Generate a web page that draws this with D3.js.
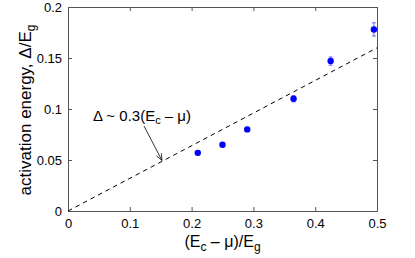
<!DOCTYPE html>
<html>
<head>
<meta charset="utf-8">
<script src="https://cdn.jsdelivr.net/npm/d3@7"></script>
<style>
  body { margin: 0; background: #fff; }
  svg { font-family: 'Liberation Sans', Arial, sans-serif; }
</style>
</head>
<body>
<div class="visHolder"></div>
<script>
// measured points (E_c - mu)/E_g vs Delta/E_g
var xVals = [0.21, 0.25, 0.29, 0.365, 0.425, 0.495];
var yVals = [0.057, 0.065, 0.08, 0.11, 0.147, 0.178];
var yErr = [0.002, 0.002, 0.002, 0.003, 0.004, 0.0065];
var xTicks = [0, 0.1, 0.2, 0.3, 0.4, 0.5];
var yTicks = [0, 0.05, 0.1, 0.15, 0.2];
var fitSlope = 0.32;
var fitX = [0, 0.5];

var width = 415,
  height = 258,
  margin = { left: 68, right: 38, top: 7, bottom: 47 };

var svg = d3
  .select('.visHolder')
  .append('svg')
  .attr('width', width)
  .attr('height', height);

var xScale = d3
  .scaleLinear()
  .domain([0, 0.5])
  .range([margin.left, width - margin.right]);

var yScale = d3
  .scaleLinear()
  .domain([0, 0.2])
  .range([height - margin.bottom, margin.top]);

var fmt = function (d) { return d === 0 ? '0' : String(d); };

// bottom axis with inside ticks
var xAxis = d3.axisBottom(xScale).tickValues(xTicks).tickFormat(fmt)
  .tickSizeInner(-4).tickSizeOuter(0).tickPadding(8);
svg.append('g')
  .attr('transform', 'translate(0,' + yScale(0) + ')')
  .call(xAxis);

var yAxis = d3.axisLeft(yScale).tickValues(yTicks).tickFormat(fmt)
  .tickSizeInner(-4).tickSizeOuter(0).tickPadding(6);
svg.append('g')
  .attr('transform', 'translate(' + xScale(0) + ',0)')
  .call(yAxis);

// top and right ticks (no labels)
svg.append('g')
  .attr('transform', 'translate(0,' + yScale(0.2) + ')')
  .call(d3.axisTop(xScale).tickValues(xTicks).tickFormat('').tickSizeInner(-4).tickSizeOuter(0));
svg.append('g')
  .attr('transform', 'translate(' + xScale(0.5) + ',0)')
  .call(d3.axisRight(yScale).tickValues(yTicks).tickFormat('').tickSizeInner(-4).tickSizeOuter(0));

svg.selectAll('.domain').attr('stroke', '#555').attr('stroke-width', 1);
svg.selectAll('.tick line').attr('stroke', '#555');
svg.selectAll('.tick text').attr('font-size', 13).attr('fill', '#000')
  .attr('font-family', "'Liberation Sans', Arial, sans-serif");

// dashed fit line
svg.append('line')
  .attr('x1', xScale(fitX[0]))
  .attr('y1', yScale(fitX[0] * fitSlope))
  .attr('x2', xScale(fitX[1]))
  .attr('y2', yScale(fitX[1] * fitSlope))
  .attr('stroke', '#000')
  .attr('stroke-width', 1)
  .attr('stroke-dasharray', '4.5,4');

// error bars
var pts = xVals.map(function (x, i) { return { x: x, y: yVals[i], e: yErr[i] }; });
var eb = svg.append('g').attr('stroke', '#6a6aff').attr('stroke-width', 1);
eb.selectAll('line.v').data(pts).enter().append('line')
  .attr('x1', d => xScale(d.x)).attr('x2', d => xScale(d.x))
  .attr('y1', d => yScale(d.y - d.e)).attr('y2', d => yScale(d.y + d.e));
eb.selectAll('line.t').data(pts).enter().append('line')
  .attr('x1', d => xScale(d.x) - 2).attr('x2', d => xScale(d.x) + 2)
  .attr('y1', d => yScale(d.y + d.e)).attr('y2', d => yScale(d.y + d.e));
eb.selectAll('line.b').data(pts).enter().append('line')
  .attr('x1', d => xScale(d.x) - 2).attr('x2', d => xScale(d.x) + 2)
  .attr('y1', d => yScale(d.y - d.e)).attr('y2', d => yScale(d.y - d.e));

svg.selectAll('circle').data(pts).enter().append('circle')
  .attr('cx', d => xScale(d.x))
  .attr('cy', d => yScale(d.y))
  .attr('r', 3.2)
  .attr('fill', '#0000ff');

// annotation
var ann = svg.append('text')
  .attr('x', 93).attr('y', 121)
  .attr('font-size', 15).attr('fill', '#000');
ann.append('tspan').text('\u0394 ~ 0.3(E');
ann.append('tspan').attr('font-size', 11).attr('dy', 3).text('c');
ann.append('tspan').attr('dy', -3).text(' \u2013 \u03bc)');

var ax1 = 144, ay1 = 126, ax2 = xScale(0.152), ay2 = yScale(0.152 * fitSlope) - 1;
svg.append('line')
  .attr('x1', ax1).attr('y1', ay1).attr('x2', ax2).attr('y2', ay2)
  .attr('stroke', '#000').attr('stroke-width', 0.8);
var ang = Math.atan2(ay2 - ay1, ax2 - ax1);
var hl = 7, hw = 0.4;
svg.append('path')
  .attr('d', 'M' + (ax2 - hl * Math.cos(ang - hw)) + ',' + (ay2 - hl * Math.sin(ang - hw)) +
    'L' + ax2 + ',' + ay2 +
    'L' + (ax2 - hl * Math.cos(ang + hw)) + ',' + (ay2 - hl * Math.sin(ang + hw)))
  .attr('fill', 'none').attr('stroke', '#000').attr('stroke-width', 0.8);

// axis labels
var xl = svg.append('text')
  .attr('x', (xScale(0) + xScale(0.5)) / 2).attr('y', 247)
  .attr('text-anchor', 'middle').attr('font-size', 16).attr('fill', '#000');
xl.append('tspan').text('(E');
xl.append('tspan').attr('font-size', 12).attr('dy', 4).text('c');
xl.append('tspan').attr('dy', -4).text(' \u2013 \u03bc)/E');
xl.append('tspan').attr('font-size', 12).attr('dy', 4).text('g');

var yl = svg.append('text')
  .attr('transform', 'translate(31,' + (yScale(0.1) + 1) + ') rotate(-90)')
  .attr('text-anchor', 'middle').attr('font-size', 17).attr('fill', '#000');
yl.append('tspan').text('activation energy, \u0394/E');
yl.append('tspan').attr('font-size', 12).attr('dy', 4).text('g');
</script>
</body>
</html>
